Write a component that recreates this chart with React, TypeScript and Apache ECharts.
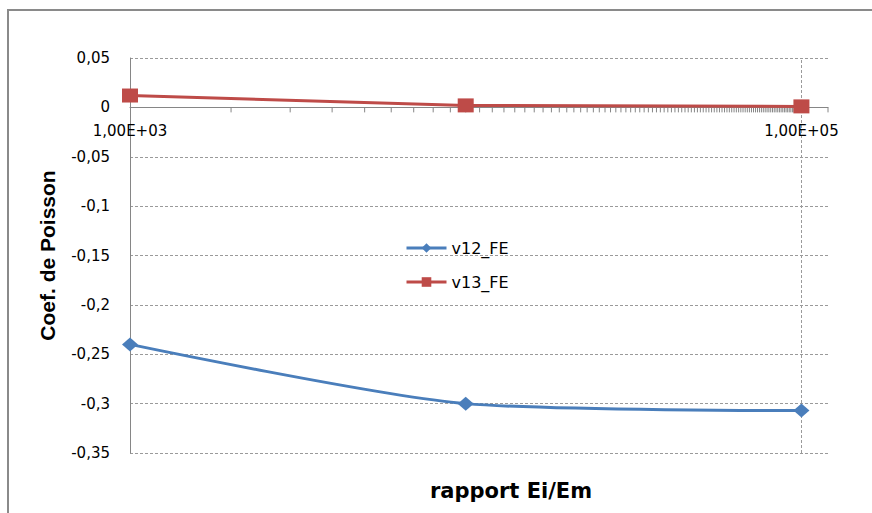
import React, { useEffect, useRef } from "react";
import * as echarts from "echarts";

// ---- data ----
const ratioValues = [1000, 10000, 100000];
const v12Values = [-0.24, -0.3, -0.307];
const v13Values = [0.012, 0.002, 0.001];
const seriesNames = ["v12_FE", "v13_FE"];
const xLabelValues = [1000, 100000];
const xLabelTexts = ["1,00E+03", "1,00E+05"];
const xMin = 1000;
const xMax = 120000;
const yMin = -0.35;
const yMax = 0.05;
const yStep = 0.05;
const gridLineValues = [100000];

// minor tick marks along the x axis (every 1000 up to 1e5, plus axis end)
const minorTickValues: number[] = [];
for (let v = 2000; v <= 100000; v += 1000) minorTickValues.push(v);
minorTickValues.push(xMax);

const AXIS_GRAY = "#868686";
const GRID_GRAY = "#9a9a9a";
const BLUE = "#4A7EBB";
const RED = "#BE4B48";

export default function App() {
  const ref = useRef<HTMLDivElement>(null);

  useEffect(() => {
    if (!ref.current) return;
    const chart = echarts.init(ref.current, undefined, { renderer: "svg" });

    const option: any = {
      animation: false,
      backgroundColor: "#ffffff",
      grid: { left: 130, right: 44, top: 58, bottom: 60 },
      legend: {
        data: seriesNames,
        orient: "vertical",
        left: 400,
        top: 235,
        itemWidth: 40,
        itemHeight: 12,
        itemGap: 18,
        lineStyle: { width: 3 },
        textStyle: {
          fontFamily: "DejaVu Sans",
          fontSize: 16,
          color: "#000",
          lineHeight: 16,
        },
      },
      xAxis: {
        type: "log",
        logBase: 10,
        min: xMin,
        max: xMax,
        axisLine: { show: true, onZero: true, lineStyle: { color: AXIS_GRAY, width: 1 } },
        axisTick: { show: false },
        splitLine: { show: false },
        minorTick: { show: false },
        axisLabel: { show: false },
      },
      yAxis: {
        type: "value",
        min: yMin,
        max: yMax,
        interval: yStep,
        name: "Coef. de Poisson",
        nameLocation: "middle",
        nameGap: 72,
        nameTextStyle: {
          fontFamily: "Liberation Sans",
          fontWeight: "bold",
          fontSize: 21,
          color: "#000",
        },
        axisLine: { show: true, lineStyle: { color: AXIS_GRAY, width: 1 } },
        axisTick: { show: false },
        splitLine: {
          show: true,
          lineStyle: { color: GRID_GRAY, type: [3, 2], width: 1 },
        },
        axisLabel: {
          margin: 20,
          fontFamily: "DejaVu Sans",
          fontSize: 15,
          color: "#000",
          formatter: (v: number) => {
            const r = Math.round(v * 100) / 100;
            if (r === 0) return "0";
            return String(r).replace(".", ",");
          },
        },
      },
      graphic: [
        {
          type: "line",
          shape: { x1: 8, y1: 10, x2: 8, y2: 520 },
          style: { stroke: "#8a8a8a", lineWidth: 2 },
          silent: true,
        },
        {
          type: "line",
          shape: { x1: 7, y1: 10, x2: 880, y2: 10 },
          style: { stroke: "#8a8a8a", lineWidth: 2 },
          silent: true,
        },
        {
          type: "text",
          x: 511,
          y: 491,
          style: {
            text: "rapport Ei/Em",
            fontFamily: "DejaVu Sans",
            fontWeight: "bold",
            fontSize: 21,
            fill: "#000",
            textAlign: "center",
            textVerticalAlign: "middle",
          },
        },
      ],
      series: [
        {
          name: "ticks",
          type: "custom",
          silent: true,
          clip: false,
          z: 1,
          data: minorTickValues.map((v) => [v, 0]),
          renderItem: (params: any, api: any) => {
            const p = api.coord([api.value(0), 0]);
            return {
              type: "line",
              shape: { x1: p[0], y1: p[1], x2: p[0], y2: p[1] + 5 },
              style: { stroke: AXIS_GRAY, lineWidth: 1 },
            };
          },
        },
        {
          name: "xlabels",
          type: "custom",
          silent: true,
          clip: false,
          z: 5,
          data: xLabelValues.map((v, i) => [v, 0, i]),
          renderItem: (params: any, api: any) => {
            const p = api.coord([api.value(0), 0]);
            return {
              type: "text",
              x: p[0],
              y: p[1] + 24,
              style: {
                text: xLabelTexts[params.dataIndex],
                fontFamily: "DejaVu Sans",
                fontSize: 15,
                fill: "#000",
                textAlign: "center",
                textVerticalAlign: "middle",
              },
            };
          },
        },
        {
          name: seriesNames[0],
          type: "line",
          smooth: 0.25,
          data: ratioValues.map((x, i) => [x, v12Values[i]]),
          symbol: "diamond",
          symbolSize: [16, 14],
          itemStyle: { color: BLUE },
          lineStyle: { color: BLUE, width: 3 },
          z: 3,
          markLine: {
            silent: true,
            symbol: ["none", "none"],
            label: { show: false },
            lineStyle: { color: GRID_GRAY, type: [3, 2], width: 1 },
            data: gridLineValues.map((v) => ({ xAxis: v })),
            z: 1,
          },
        },
        {
          name: seriesNames[1],
          type: "line",
          smooth: false,
          data: ratioValues.map((x, i) => [x, v13Values[i]]),
          symbol: "rect",
          symbolSize: [16, 14],
          itemStyle: { color: RED },
          lineStyle: { color: RED, width: 3 },
          z: 4,
        },
      ],
    };

    chart.setOption(option);
    return () => chart.dispose();
  }, []);

  return (
    <div
      ref={ref}
      style={{ position: "fixed", left: 0, top: 0, width: 872, height: 513, background: "#fff" }}
    />
  );
}
